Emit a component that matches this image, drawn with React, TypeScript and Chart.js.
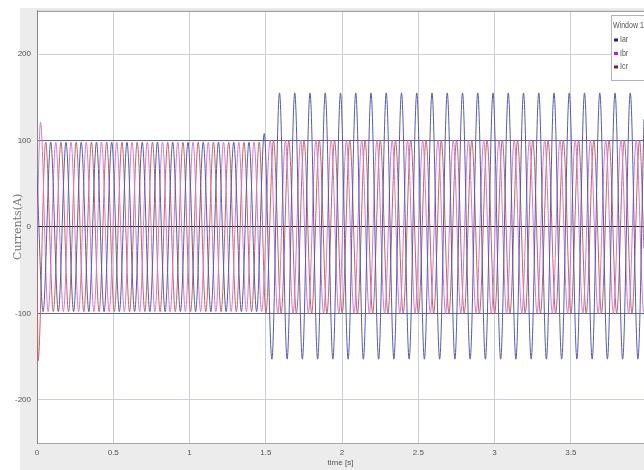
import React, { useEffect, useRef } from 'react';
import { Chart, registerables } from 'chart.js';

Chart.register(...registerables);

// ---- data ----
const HALF_PERIOD = 0.05; // seconds between successive extremes (10 Hz waveform)
const X_MIN = 0;
const X_MAX = 3.98;
const Y_MIN = -250;
const Y_MAX = 250;
const X_TICKS = [0, 0.5, 1, 1.5, 2, 2.5, 3, 3.5];
const Y_TICKS = [-200, -100, 0, 100, 200];
const SERIES_NAMES = ['Iar', 'Ibr', 'Icr'];
const LEGEND_TITLE = 'Window 1';

// Iar
const IAR_START = 60;
const IAR_PRE_T = 0.04;
const IAR_PRE = [
  -98, 98, -98, 98, -98, 98, -98, 98, -98, 98,
  -98, 98, -98, 98, -98, 98, -98, 98, -98, 98,
  -98, 98, -98, 98, -98, 98, -98, 98, -98, 108,
];
const IAR_POST_T = 1.54;
const IAR_POST = [
  -153, 155, -153, 155, -153, 155, -153, 155, -153, 155, -153, 155,
  -153, 155, -153, 155, -153, 155, -153, 155, -153, 155, -153, 155,
  -153, 155, -153, 155, -153, 155, -153, 155, -153, 155, -153, 155,
  -153, 155, -153, 155, -153, 155, -153, 155, -153, 155, -153, 155,
  -153,
];
const IAR_END = 125;

// Ibr
const IBR_START = 0;
const IBR_PRE_T = 0.023;
const IBR_PRE = [
  121, -98, 98, -98, 98, -98, 98, -98, 98, -98,
  98, -98, 98, -98, 98, -98, 98, -98, 98, -98,
  98, -98, 98, -98, 98, -98, 98, -98, 98, -98,
];
const IBR_POST_T = 1.529;
const IBR_POST = [
  100, -100, 100, -100, 100, -100, 100, -100, 100, -100,
  100, -100, 100, -100, 100, -100, 100, -100, 100, -100,
  100, -100, 100, -100, 100, -100, 100, -100, 100, -100,
  100, -100, 100, -100, 100, -100, 100, -100, 100, -100,
  100, -100, 100, -100, 100, -100, 100, -100, 100, -100,
];
const IBR_END = -100;

// Icr
const ICR_START = 0;
const ICR_PRE_T = 0.007;
const ICR_PRE = [
  -155, 98, -98, 98, -98, 98, -98, 98, -98, 98,
  -98, 98, -98, 98, -98, 98, -98, 98, -98, 98,
  -98, 98, -98, 98, -98, 98, -98, 98, -98, 98,
];
const ICR_POST_T = 1.501;
const ICR_POST = [
  -100, 100, -100, 100, -100, 100, -100, 100, -100, 100,
  -100, 100, -100, 100, -100, 100, -100, 100, -100, 100,
  -100, 100, -100, 100, -100, 100, -100, 100, -100, 100,
  -100, 100, -100, 100, -100, 100, -100, 100, -100, 100,
  -100, 100, -100, 100, -100, 100, -100, 100, -100, 100,
];
const ICR_END = -25;

// ---- styles ----
const COLORS = ['#5a5ab0', '#d27ad0', '#c46464'];
const MARKER_COLORS = ['#1c1c86', '#c21cc2', '#941818'];
const FONT = "'Liberation Sans', Arial, sans-serif";

function buildSeries(start: number, preT: number, pre: number[], postT: number, post: number[], end: number) {
  const pts: { x: number; y: number }[] = [{ x: X_MIN, y: start }];
  pre.forEach((v, i) => pts.push({ x: preT + i * HALF_PERIOD, y: v }));
  post.forEach((v, i) => pts.push({ x: postT + i * HALF_PERIOD, y: v }));
  pts.push({ x: X_MAX, y: end });
  return pts;
}

const framePlugin = {
  id: 'frame',
  beforeDraw(chart: any) {
    const { ctx, chartArea } = chart;
    ctx.save();
    ctx.fillStyle = '#ffffff';
    ctx.fillRect(0, 0, chart.width, chart.height);
    ctx.fillStyle = '#ececec';
    ctx.fillRect(20, 8, chart.width - 20, chart.height - 8);
    ctx.fillStyle = '#ffffff';
    ctx.fillRect(chartArea.left, chartArea.top, chartArea.right - chartArea.left, chartArea.bottom - chartArea.top);
    ctx.restore();
  },
  afterDraw(chart: any) {
    const { ctx, chartArea } = chart;
    ctx.save();
    // top border
    ctx.strokeStyle = '#8a8a8a';
    ctx.lineWidth = 1;
    ctx.beginPath();
    ctx.moveTo(chartArea.left, chartArea.top + 0.5);
    ctx.lineTo(chartArea.right, chartArea.top + 0.5);
    ctx.stroke();
    // legend box
    const bx = 611.5, by = 15.5, bw = 40, bh = 65;
    ctx.fillStyle = '#ffffff';
    ctx.fillRect(bx, by, bw, bh);
    ctx.strokeStyle = '#b4b4b4';
    ctx.strokeRect(bx, by, bw, bh);
    ctx.font = `9px ${FONT}`;
    ctx.textBaseline = 'middle';
    ctx.textAlign = 'left';
    const sx = 0.78;
    ctx.save();
    ctx.scale(sx, 1);
    ctx.fillStyle = '#555';
    ctx.fillText(LEGEND_TITLE, 613 / sx, 26);
    ctx.restore();
    SERIES_NAMES.forEach((name, i) => {
      const y = 40 + i * 13.5;
      ctx.fillStyle = MARKER_COLORS[i];
      ctx.fillRect(614, y - 1.5, 4, 3);
      ctx.save();
      ctx.scale(sx, 1);
      ctx.fillStyle = '#555';
      ctx.fillText(name, 620 / sx, y);
      ctx.restore();
    });
    ctx.restore();
  },
};

export default function App() {
  const ref = useRef<HTMLCanvasElement | null>(null);
  useEffect(() => {
    if (!ref.current) return;
    const data = [
      buildSeries(IAR_START, IAR_PRE_T, IAR_PRE, IAR_POST_T, IAR_POST, IAR_END),
      buildSeries(IBR_START, IBR_PRE_T, IBR_PRE, IBR_POST_T, IBR_POST, IBR_END),
      buildSeries(ICR_START, ICR_PRE_T, ICR_PRE, ICR_POST_T, ICR_POST, ICR_END),
    ];
    const chart = new Chart(ref.current, {
      type: 'line',
      data: {
        datasets: SERIES_NAMES.map((name, i) => ({
          label: name,
          data: data[i],
          borderColor: COLORS[i],
          borderWidth: 1,
          pointRadius: 0,
          cubicInterpolationMode: 'monotone' as const,
          fill: false,
        })),
      },
      options: {
        animation: false,
        responsive: false,
        maintainAspectRatio: false,
        layout: { padding: { top: 10, left: 0, right: 0, bottom: 0 } },
        plugins: { legend: { display: false }, tooltip: { enabled: false } },
        scales: {
          x: {
            type: 'linear',
            min: X_MIN,
            max: X_MAX,
            afterBuildTicks: (s: any) => { s.ticks = X_TICKS.map((v) => ({ value: v })); },
            afterFit: (s: any) => { s.height = 27; },
            ticks: {
              autoSkip: false,
              maxRotation: 0,
              padding: 5,
              color: '#555',
              font: { family: FONT, size: 8 },
              callback: (v: any) => String(v),
            },
            grid: { color: '#c8cfdb', lineWidth: 1, drawTicks: false },
            border: { display: true, color: '#a8a8a8' },
            title: {
              display: true,
              text: 'time [s]',
              color: '#555',
              font: { family: FONT, size: 8 },
              padding: { top: 0, bottom: 2 },
            },
          },
          y: {
            type: 'linear',
            min: Y_MIN,
            max: Y_MAX,
            afterBuildTicks: (s: any) => { s.ticks = Y_TICKS.map((v) => ({ value: v })); },
            afterFit: (s: any) => { s.width = 37; },
            ticks: {
              autoSkip: false,
              padding: 6,
              color: '#555',
              font: { family: FONT, size: 8 },
              callback: (v: any) => String(v),
            },
            grid: {
              drawTicks: false,
              lineWidth: 1,
              color: (c: any) => {
                const v = c.tick ? c.tick.value : null;
                if (v === 0) return '#1a1a1a';
                if (v === 100 || v === -100) return '#5a64a0';
                return '#c8cfdb';
              },
            },
            border: { display: true, color: '#888888' },
            title: {
              display: true,
              text: 'Currents(A)',
              color: '#777',
              font: { family: "'DejaVu Serif', serif", size: 11 },
              padding: { top: 12, bottom: 0 },
            },
          },
        },
      },
      plugins: [framePlugin],
    });
    return () => chart.destroy();
  }, []);
  return (
    <div style={{ position: 'fixed', left: 0, top: 0, width: 644, height: 470 }}>
      <canvas ref={ref} width={644} height={470} style={{ display: 'block' }} />
    </div>
  );
}
